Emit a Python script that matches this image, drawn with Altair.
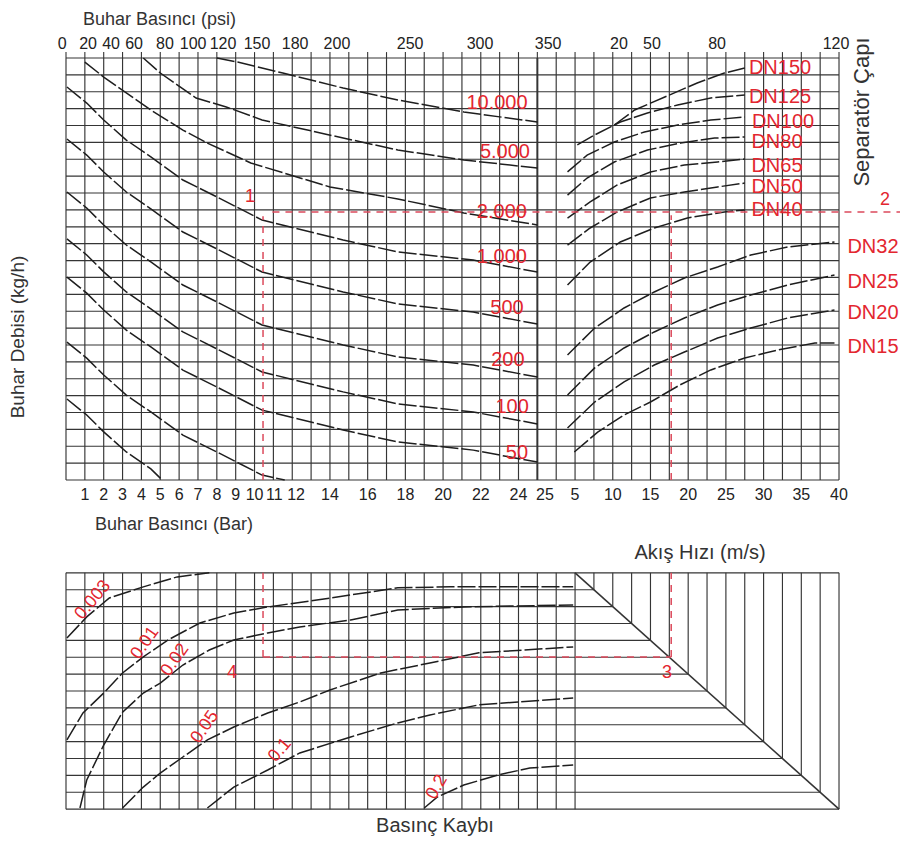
import altair as alt
import pandas as pd

# ---------------- layout of the nomogram grid (grid units) ----------------
W, H = 892, 829
COL_PX, ROW_PX = 18.854, 16.88
XMIN = -58 / COL_PX
XMAX = XMIN + W / COL_PX
YMAX = 472 / ROW_PX
YMIN = YMAX - H / ROW_PX
BOT_BASE = -19.5          # bottom panel: row = b + BOT_BASE

# ---------------- data ----------------
# Top-left: steam pressure (bar) vs flow grid row
LEFT_CURVES = {
    "L1": ([8.0, 9.1, 11.5, 14.7, 17.6, 21.1, 25.0],
           [25.0, 24.76, 24.11, 23.22, 22.51, 21.80, 21.21]),
    "L2": ([4.1, 5.0, 6.9, 8.5, 10.4, 14.7, 17.6, 21.1, 25.0],
           [25.0, 24.11, 22.63, 22.10, 21.33, 20.26, 19.55, 18.96, 18.48]),
    "L3": ([1.0, 2.0, 4.5, 6.2, 7.5, 9.8, 14.0, 17.6, 21.1, 25.0],
           [24.76, 23.87, 21.92, 20.73, 19.96, 18.78, 17.36, 16.65, 15.82, 15.11]),
    "L4": ([0.05, 1.1, 2.0, 3.2, 4.5, 6.2, 8.0, 10.4, 14.7, 17.6, 21.6, 25.0],
           [23.28, 22.33, 21.33, 20.14, 19.14, 17.77, 16.77, 15.40, 14.22, 13.51, 13.03, 12.32]),
    "L5": ([0.05, 1.1, 2.0, 3.2, 4.5, 6.2, 8.0, 10.4, 14.7, 17.6, 21.6, 25.0],
           [20.20, 19.25, 18.25, 17.06, 16.06, 14.69, 13.69, 12.32, 11.14, 10.43, 9.95, 9.24]),
    "L6": ([0.05, 1.1, 2.0, 3.2, 4.5, 6.2, 8.0, 10.4, 14.7, 17.6, 21.6, 25.0],
           [17.06, 16.11, 15.11, 13.92, 12.92, 11.55, 10.55, 9.18, 8.00, 7.29, 6.81, 6.10]),
    "L7": ([0.05, 1.1, 2.0, 3.2, 4.5, 6.2, 8.0, 10.4, 14.7, 17.6, 21.6, 25.0],
           [14.28, 13.33, 12.33, 11.14, 10.14, 8.77, 7.77, 6.40, 5.22, 4.51, 4.03, 3.32]),
    "L8": ([0.05, 1.1, 2.0, 3.2, 4.5, 6.2, 8.0, 10.4, 14.7, 17.6, 21.6, 25.0],
           [12.02, 11.07, 10.07, 8.88, 7.88, 6.51, 5.51, 4.14, 2.96, 2.25, 1.77, 1.06]),
    "L9": ([0.05, 1.1, 2.0, 3.2, 4.5, 6.2, 8.0, 10.4, 11.6],
           [8.17, 7.22, 6.22, 5.03, 4.03, 2.66, 1.66, 0.29, 0.0]),
    "L10": ([0.05, 1.1, 2.0, 3.2, 4.5, 5.1],
            [4.80, 3.85, 2.85, 1.66, 0.66, 0.0]),
}

# Top-right: flow velocity (m/s) vs flow grid row, one curve per separator size
V_A = [4.0, 7.6, 11.5, 15.5, 19.5, 23.9, 28.3, 33.2, 39.4]
RIGHT_CURVES = {
    "DN150": ([10.2, 12.9, 16.9, 21.2, 24.8, 27.5], [21.03, 21.92, 22.69, 23.52, 24.11, 24.41]),
    "DN125": ([5.3, 7.6, 11.0, 14.6, 18.6, 23.0, 27.5], [19.85, 20.44, 21.21, 21.74, 22.22, 22.63, 22.81]),
    "DN100": ([4.0, 6.6, 10.2, 14.2, 18.6, 23.0, 27.5], [18.25, 19.25, 20.02, 20.62, 21.03, 21.33, 21.50]),
    "DN80": ([4.0, 6.6, 10.2, 14.6, 19.0, 23.5, 27.5], [16.88, 17.89, 18.84, 19.55, 19.96, 20.26, 20.32]),
    "DN65": ([4.0, 7.0, 10.6, 15.0, 19.5, 23.9, 27.5], [15.52, 16.47, 17.48, 18.25, 18.66, 18.84, 19.02]),
    "DN50": ([4.0, 7.0, 10.6, 15.0, 19.5, 23.9, 27.5], [13.92, 14.93, 15.88, 16.71, 17.06, 17.36, 17.59]),
    "DN40": ([4.0, 7.0, 11.0, 15.5, 19.9, 24.8, 27.5], [11.55, 12.91, 14.10, 14.93, 15.52, 15.88, 16.00]),
    "DN32": (V_A, [7.41, 9.00, 10.19, 11.14, 11.97, 12.62, 13.33, 13.80, 14.10]),
    "DN25": (V_A, [5.04, 6.64, 7.82, 8.77, 9.60, 10.37, 10.96, 11.55, 12.14]),
    "DN20": (V_A, [3.08, 4.62, 5.81, 6.81, 7.58, 8.41, 9.00, 9.60, 10.07]),
    "DN15": ([4.9, 8.0, 11.5, 15.0, 18.9, 23.0, 27.5, 31.9, 36.8, 39.4],
             [1.66, 2.84, 3.85, 4.62, 5.63, 6.52, 7.23, 7.70, 8.12, 8.12]),
}

# Bottom: pressure-drop curves (grid column, grid row from bottom)
DROP_CURVES = {
    "0.003": ([0.05, 1.1, 2.3, 4.1, 5.9, 7.6], [10.14, 11.39, 12.51, 13.17, 13.76, 14.0]),
    "0.01": ([0.05, 0.9, 2.0, 3.0, 4.1, 5.4, 7.1, 8.9, 10.7, 13.3, 15.8, 17.6, 20.4, 26.9],
             [4.10, 5.70, 6.88, 8.07, 9.02, 10.02, 11.03, 11.62, 11.98, 12.39, 12.81, 13.11, 13.17, 13.17]),
    "0.02": ([0.74, 1.1, 2.0, 3.0, 4.1, 5.0, 6.2, 7.6, 8.9, 10.7, 12.4, 15.1, 17.6, 21.1, 26.9],
             [0.07, 1.73, 3.80, 5.75, 6.88, 7.47, 8.54, 9.43, 10.02, 10.44, 10.79, 11.21, 11.80, 11.98, 12.10]),
    "0.05": ([3.0, 4.1, 5.0, 6.2, 7.5, 8.9, 10.7, 12.4, 14.0, 16.7, 19.3, 21.9, 26.9],
             [0.07, 1.31, 2.14, 3.09, 4.10, 4.87, 5.70, 6.35, 7.06, 8.07, 8.66, 9.26, 9.61]),
    "0.1": ([7.5, 8.9, 10.7, 12.4, 15.1, 17.6, 19.3, 21.9, 26.9],
            [0.07, 1.31, 2.32, 3.33, 4.28, 5.11, 5.58, 6.18, 6.59]),
    "0.2": ([19.0, 19.7, 21.1, 22.9, 24.6, 26.9], [0.07, 0.72, 1.43, 2.02, 2.44, 2.61]),
}
DROP_LABELS = ["0.003", "0.01", "0.02", "0.05", "0.1", "0.2"]
DROP_LABEL_COL = [1.43, 4.19, 5.78, 7.37, 11.35, 19.68]
DROP_LABEL_B = [12.39, 9.84, 8.84, 4.87, 3.50, 1.31]
DROP_LABEL_ANGLE = [310, 305, 305, 305, 310, 300]

BAR_TICKS = ["1", "2", "3", "4", "5", "6", "7", "8", "9", "10", "11", "12",
             "14", "16", "18", "20", "22", "24", "25"]
BAR_TICK_POS = [1, 2, 3, 4, 5, 6, 7, 8, 9, 10, 11.05, 12.2, 14, 16, 18, 20, 22, 24, 25.4]
VEL_TICKS = [5, 10, 15, 20, 25, 30, 35, 40]

PSI_TICKS = ["0", "20", "40", "60", "80", "100", "120", "150", "180", "200", "250", "300", "350",
             "20", "50", "80", "120"]
PSI_TICK_POS = [-0.2, 1.17, 2.39, 3.61, 5.25, 6.74, 8.33, 10.13, 12.15, 14.37, 18.25, 21.96, 25.57,
                29.33, 31.08, 34.53, 40.84]

FLOW_LABELS = ["10.000", "5.000", "2.000", "1.000", "500", "200", "100", "50"]
FLOW_LABEL_COL = [22.86, 23.28, 23.12, 23.12, 23.39, 23.44, 23.66, 23.92]
FLOW_LABEL_ROW = [22.33, 19.43, 15.88, 13.21, 10.19, 7.11, 4.32, 1.60]

DN_LABELS = ["DN150", "DN125", "DN100", "DN80", "DN65", "DN50", "DN40", "DN32", "DN25", "DN20", "DN15"]
DN_COL = [37.87, 37.87, 38.03, 37.71, 37.71, 37.71, 37.71, 42.80, 42.80, 42.80, 42.80]
DN_ROW = [24.41, 22.69, 21.21, 20.02, 18.60, 17.36, 16.00, 13.80, 11.73, 9.89, 7.88]

# example reading path (red dashed)
EX_PRESSURE_COL = 10.45
EX_VEL_COL = 32.1
EX_FLOW_ROW = 15.88
EX_DROP_B = 9.02

# ---------------- build tables ----------------
def vel_col(v):
    return 25 + v / 2.5

rows = []
for name, (xs, ys) in LEFT_CURVES.items():
    for i, (a, b) in enumerate(zip(xs, ys)):
        rows.append({"id": name, "i": i, "x": a, "y": b})
for name, (vs, ys) in RIGHT_CURVES.items():
    for i, (a, b) in enumerate(zip(vs, ys)):
        rows.append({"id": name, "i": i, "x": vel_col(a), "y": b})
for name, (xs, ys) in DROP_CURVES.items():
    for i, (a, b) in enumerate(zip(xs, ys)):
        rows.append({"id": "d" + name, "i": i, "x": a, "y": b + BOT_BASE})
curves_df = pd.DataFrame(rows)

grid = []
for c in range(0, 42):
    grid.append({"x": c, "x2": c, "y": 0, "y2": 25, "w": 2.0 if c == 25 else 1.15})
for r in range(0, 26):
    grid.append({"x": 0, "x2": 41, "y": r, "y2": r, "w": 1.15})
for b in range(0, 15):
    x2 = 41 if b in (0, 14) else 41 - b
    grid.append({"x": 0, "x2": x2, "y": b + BOT_BASE, "y2": b + BOT_BASE, "w": 1.15})
for c in range(0, 42):
    b0 = 0 if c <= 27 or c == 41 else 41 - c
    grid.append({"x": c, "x2": c, "y": b0 + BOT_BASE, "y2": 14 + BOT_BASE, "w": 1.15})
grid.append({"x": 27, "x2": 41, "y": 14 + BOT_BASE, "y2": BOT_BASE, "w": 1.6})
grid_df = pd.DataFrame(grid)

ticks_df = pd.DataFrame({"x": list(range(0, 42)), "x2": list(range(0, 42)),
                         "y": [25] * 42, "y2": [25.35] * 42})

red_df = pd.DataFrame([
    {"x": EX_PRESSURE_COL + 0.5, "x2": 44.3, "y": EX_FLOW_ROW, "y2": EX_FLOW_ROW},
    {"x": EX_PRESSURE_COL, "x2": EX_PRESSURE_COL, "y": 0, "y2": EX_FLOW_ROW - 0.25},
    {"x": EX_VEL_COL, "x2": EX_VEL_COL, "y": 0, "y2": EX_FLOW_ROW - 0.2},
    {"x": EX_PRESSURE_COL, "x2": EX_PRESSURE_COL, "y": EX_DROP_B + BOT_BASE, "y2": 14 + BOT_BASE},
    {"x": EX_PRESSURE_COL, "x2": EX_VEL_COL, "y": EX_DROP_B + BOT_BASE, "y2": EX_DROP_B + BOT_BASE},
    {"x": EX_VEL_COL, "x2": EX_VEL_COL, "y": EX_DROP_B + BOT_BASE, "y2": 14 + BOT_BASE},
])

tick_lbl_df = pd.DataFrame(
    [{"x": p, "y": -0.89, "t": t} for t, p in zip(BAR_TICKS, BAR_TICK_POS)]
    + [{"x": vel_col(v), "y": -0.89, "t": str(v)} for v in VEL_TICKS]
    + [{"x": p, "y": 25.8, "t": t} for t, p in zip(PSI_TICKS, PSI_TICK_POS)]
)
flow_df = pd.DataFrame({"x": FLOW_LABEL_COL, "y": FLOW_LABEL_ROW, "t": FLOW_LABELS})
dn_df = pd.DataFrame({"x": DN_COL, "y": DN_ROW, "t": DN_LABELS})
drop_df = pd.DataFrame({"x": DROP_LABEL_COL, "y": [b + BOT_BASE for b in DROP_LABEL_B],
                        "t": DROP_LABELS, "a": DROP_LABEL_ANGLE})
num_df = pd.DataFrame({"x": [9.76, 43.44, 31.88, 8.8], "y": [16.77, 16.59, -11.43, -11.43],
                       "t": ["1", "2", "3", "4"]})
title_df = pd.DataFrame([
    {"x": 0.9, "y": 27.25, "t": "Buhar Basıncı (psi)"},
    {"x": 1.54, "y": -2.67, "t": "Buhar Basıncı (Bar)"},
])
title_c_df = pd.DataFrame([
    {"x": 33.63, "y": -4.32, "t": "Akış Hızı (m/s)"},
    {"x": 19.57, "y": -20.5, "t": "Basınç Kaybı"},
])
vert_df = pd.DataFrame([
    {"x": -2.55, "y": 8.47, "t": "Buhar Debisi (kg/h)", "s": 19},
    {"x": 42.2, "y": 21.8, "t": "Separatör Çapı", "s": 22},
])

# ---------------- chart ----------------
X = alt.X("x:Q", scale=alt.Scale(domain=[XMIN, XMAX], nice=False, zero=False), axis=None)
Y = alt.Y("y:Q", scale=alt.Scale(domain=[YMIN, YMAX], nice=False, zero=False), axis=None)
X2 = alt.X2("x2:Q")
Y2 = alt.Y2("y2:Q")

GRID_COLOR = "#353535"
RED = "#e3262f"
SANS = "Liberation Sans, Arial, sans-serif"

grid_layer = alt.Chart(grid_df).mark_rule(color=GRID_COLOR).encode(
    x=X, x2=X2, y=Y, y2=Y2, strokeWidth=alt.StrokeWidth("w:Q", scale=None))
ticks_layer = alt.Chart(ticks_df).mark_rule(color=GRID_COLOR, strokeWidth=1.1).encode(
    x=X, x2=X2, y=Y, y2=Y2)
curve_layer = alt.Chart(curves_df).mark_line(
    color="#1e1e1e", strokeWidth=1.5, strokeDash=[18, 3]).encode(
    x=X, y=Y, detail="id:N", order="i:Q")
red_layer = alt.Chart(red_df).mark_rule(color="#dc4a5c", strokeWidth=1.5, strokeDash=[7, 6]).encode(
    x=X, x2=X2, y=Y, y2=Y2)

tick_text = alt.Chart(tick_lbl_df).mark_text(font=SANS, fontSize=16, color="#222222",
                                             align="center", baseline="middle").encode(x=X, y=Y, text="t:N")
flow_text = alt.Chart(flow_df).mark_text(font=SANS, fontSize=20, color=RED,
                                         align="center", baseline="middle").encode(x=X, y=Y, text="t:N")
dn_text = alt.Chart(dn_df).mark_text(font=SANS, fontSize=20, color=RED,
                                     align="center", baseline="middle").encode(x=X, y=Y, text="t:N")
drop_text = alt.Chart(drop_df).mark_text(font=SANS, fontSize=18, color=RED,
                                         align="center", baseline="middle").encode(
    x=X, y=Y, text="t:N", angle=alt.Angle("a:Q", scale=None))
num_text = alt.Chart(num_df).mark_text(font=SANS, fontSize=18, color=RED,
                                       align="center", baseline="middle").encode(x=X, y=Y, text="t:N")
title_text = alt.Chart(title_df).mark_text(font=SANS, fontSize=18, color="#333333",
                                           align="left", baseline="middle").encode(x=X, y=Y, text="t:N")
title_c_text = alt.Chart(title_c_df).mark_text(font=SANS, fontSize=20, color="#333333",
                                               align="center", baseline="middle").encode(x=X, y=Y, text="t:N")
vert_text = alt.Chart(vert_df).mark_text(font=SANS, color="#333333", angle=270,
                                         align="center", baseline="middle").encode(
    x=X, y=Y, text="t:N", size=alt.Size("s:Q", scale=None))

chart = alt.layer(
    grid_layer, ticks_layer, curve_layer, red_layer,
    tick_text, flow_text, dn_text, drop_text, num_text, title_text, title_c_text, vert_text,
).properties(
    width=W, height=H, autosize=alt.AutoSizeParams(type="none"), padding=0,
).configure_view(strokeWidth=0)

chart.save("out.html", embed_options={"renderer": "svg", "actions": False})
